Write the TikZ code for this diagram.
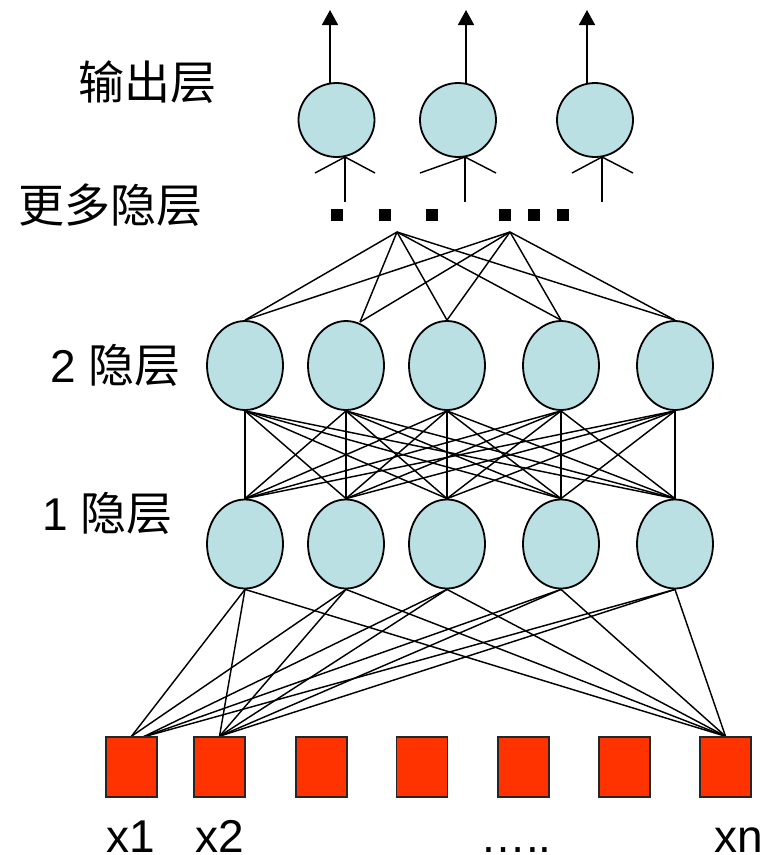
\documentclass[tikz,border=0pt]{standalone}
\usepackage{fontspec}
\setmainfont{Liberation Sans}
\newfontfamily\cjk{Noto Sans CJK SC}
\usetikzlibrary{shapes.geometric,arrows.meta}
\definecolor{neuron}{RGB}{186,224,227}
\definecolor{inputred}{RGB}{255,51,0}
\pgfdeclarelayer{wires}
\pgfsetlayers{wires,main}
\begin{document}
\begin{tikzpicture}[x=1pt,y=-1pt,
  neuronstyle/.style={ellipse, draw=black, line width=1.8pt, fill=neuron,
    minimum width=76pt, minimum height=89pt, inner sep=0pt},
  outneuron/.style={neuronstyle, minimum height=74pt},
  inbox/.style={rectangle, draw=black!85, line width=1.5pt, fill=inputred,
    minimum width=51pt, minimum height=60pt, inner sep=0pt},
  dotbox/.style={rectangle, fill=black, minimum size=12pt, inner sep=0pt},
  link/.style={line width=1.45pt},
  outarrow/.style={line width=1.7pt, -{Triangle[width=16pt,length=15pt]}},
  lbl/.style={anchor=base west, inner sep=0pt, font=\fontsize{46}{50}\selectfont}]
\useasboundingbox (0,0) rectangle (765,855);

% ---- hidden layers ----
\foreach \i/\x in {1/245,2/346,3/447,4/561,5/675}{
  \node[neuronstyle] (h2-\i) at (\x,365.5) {};
  \node[neuronstyle] (h1-\i) at (\x,544) {};
}

% ---- inputs ----
\foreach \k/\x in {1/131.5,2/219.5,3/321.5,4/422,5/523.5,6/624.5,7/725.5}
  \node[inbox] (in\k) at (\x,767) {};

% ---- connection points ----
\coordinate (A) at (397,232);
\coordinate (B) at (510,232);
\coordinate (h2t2) at (360,322);
\coordinate (x1b) at (143,737);

\begin{pgfonlayer}{wires}
  % layer 2 -> layer 1, fully connected
  \foreach \i in {1,...,5}
    \foreach \j in {1,...,5}
      \draw[link] (h2-\i.south) -- (h1-\j.north);
  % further hidden layers -> layer 2
  \foreach \p in {A,B}{
    \foreach \j in {1,3,4,5}
      \draw[link] (\p) -- (h2-\j.north);
    \draw[link] (\p) -- (h2t2);
  }
  % layer 1 -> inputs x1, x2, xn
  \foreach \j in {1,2}
    \draw[link] (h1-\j.south) -- (in1.north);
  \foreach \j in {3,4,5}
    \draw[link] (h1-\j.south) -- (x1b);
  \foreach \j in {1,...,5}{
    \draw[link] (h1-\j.south) -- (in2.north);
    \draw[link] (h1-\j.south) -- (in7.north);
  }
\end{pgfonlayer}

% ---- ellipsis of further hidden layers ----
\foreach \k/\x in {1/337,2/385,3/432,4/505,5/534,6/563}
  \node[dotbox] (d\k) at (\x,215) {};

% ---- output layer ----
\node[outneuron] (o1) at (336.5,120) {};
\node[outneuron] (o2) at (458,120) {};
\node[outneuron] (o3) at (595,120) {};

\coordinate (o1s) at (330,83);  \coordinate (o1e) at (330,10);
\coordinate (o2s) at (466,83);  \coordinate (o2e) at (466,10);
\coordinate (o3s) at (587,83);  \coordinate (o3e) at (587,10);
\draw[outarrow] (o1s) -- (o1e);
\draw[outarrow] (o2s) -- (o2e);
\draw[outarrow] (o3s) -- (o3e);

% fan-in stubs under each output neuron
\foreach \n/\x/\l/\r in {1/345/315/375, 2/465/420/496, 3/602/572/633}{
  \coordinate (y\n) at (\x,157);
  \coordinate (yl\n) at (\l,173);
  \coordinate (yr\n) at (\r,173);
  \coordinate (yd\n) at (\x,202);
  \draw[link] (yl\n) -- (y\n) -- (yr\n);
  \draw[link] (y\n) -- (yd\n);
}

% ---- labels ----
\node[lbl] (tout) at (78,99) {\cjk 输出层};
\node[lbl] (tmore) at (18,222) {\cjk 更多隐层};
\node[lbl] (th2) at (50,382) {2 {\cjk 隐层}};
\node[lbl] (th1) at (42,530) {1 {\cjk 隐层}};
\node[lbl] (tx1) at (106,852) {x1};
\node[lbl] (tx2) at (195,852) {x2};
\node[lbl] (tdots) at (480,852) {…..};
\node[lbl] (txn) at (714,852) {xn};
\end{tikzpicture}
\end{document}
